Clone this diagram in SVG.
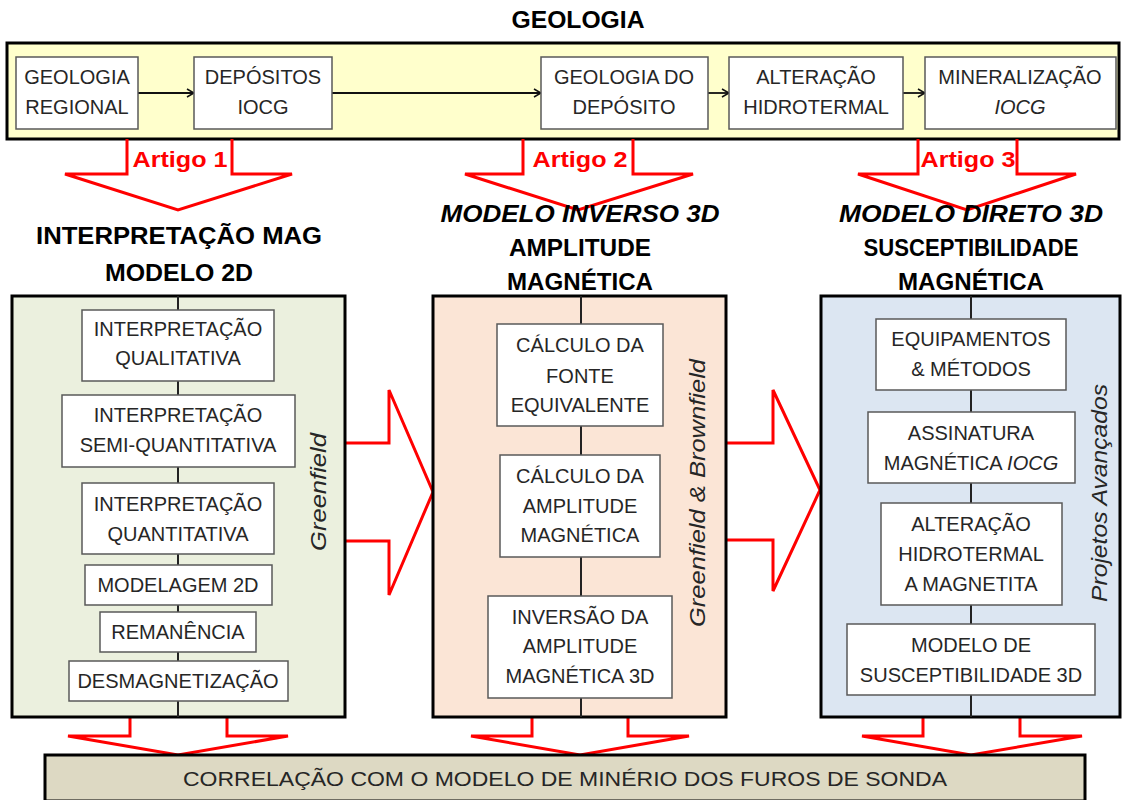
<svg xmlns="http://www.w3.org/2000/svg" width="1124" height="800" viewBox="0 0 1124 800">
<defs>
<marker id="ah" viewBox="0 0 10 10" refX="9" refY="5" markerWidth="10" markerHeight="10" markerUnits="userSpaceOnUse" orient="auto">
<polyline points="2,1 9,5 2,9" fill="none" stroke="#111" stroke-width="1.6"/>
</marker>
<style>
text{font-family:"Liberation Sans",Arial,sans-serif;}
.bx{fill:#fff;stroke:#595959;stroke-width:1.5;}
.t{font-size:20px;fill:#262626;text-anchor:middle;}
.h{font-size:24px;font-weight:bold;fill:#000;text-anchor:middle;}
.hi{font-style:italic;}
.panel{stroke:#000;stroke-width:3;}
.vl{stroke:#222;stroke-width:2;}
.red{fill:none;stroke:#ff0000;stroke-width:3;stroke-linejoin:miter;}
.art{font-size:22px;font-weight:bold;fill:#ff0000;text-anchor:middle;}
.rot{font-size:22px;font-style:italic;fill:#262626;text-anchor:middle;}
.flow{stroke:#111;stroke-width:1.8;fill:none;}
</style>
</defs>

<rect width="1124" height="800" fill="#fff"/>

<text class="h" x="578" y="28" textLength="133" lengthAdjust="spacingAndGlyphs">GEOLOGIA</text>

<g id="geologia">
<rect x="7" y="43" width="1112" height="96" fill="#ffffcc" stroke="#000" stroke-width="3"/>
</g>

<g id="connectors">
<line class="flow" x1="138" y1="93" x2="194" y2="93" marker-end="url(#ah)"/>
<line class="flow" x1="332" y1="93" x2="541" y2="93" marker-end="url(#ah)"/>
<line class="flow" x1="708" y1="93" x2="729" y2="93" marker-end="url(#ah)"/>
<line class="flow" x1="903" y1="93" x2="925" y2="93" marker-end="url(#ah)"/>
<polyline class="red" points="127,139 127,174 65,174 178,210 292,174 232,174 232,139"/>
<polyline class="red" points="523,139 523,174 465,174 578,210 693,174 633,174 633,139"/>
<polyline class="red" points="918,139 918,174 858,174 967,210 1076,174 1017,174 1017,139"/>
<polyline class="red" points="345,443 389,443 389,390 433,492 389,595 389,541 345,541"/>
<polyline class="red" points="726,443 773,443 773,390 820,490 773,591 773,540 726,540"/>
<polyline class="red" points="130,717 130,736 68,736 178,755 288,736 227,736 227,717"/>
<polyline class="red" points="532,717 532,736 471,736 580,755 689,736 628,736 628,717"/>
<polyline class="red" points="923,717 923,736 862,736 971,755 1082,736 1020,736 1020,717"/>
</g>

<g id="n-geo-regional">
<rect class="bx" x="16" y="57" width="122" height="72"/>
<text class="t" x="77" y="84">GEOLOGIA</text>
<text class="t" x="77" y="114">REGIONAL</text>
</g>
<g id="n-depositos">
<rect class="bx" x="194" y="57" width="138" height="72"/>
<text class="t" x="263" y="84">DEPÓSITOS</text>
<text class="t" x="263" y="114">IOCG</text>
</g>
<g id="n-geo-deposito">
<rect class="bx" x="541" y="57" width="167" height="72"/>
<text class="t" x="624" y="84">GEOLOGIA  DO</text>
<text class="t" x="624" y="114">DEPÓSITO</text>
</g>
<g id="n-alteracao">
<rect class="bx" x="729" y="57" width="174" height="72"/>
<text class="t" x="816" y="84">ALTERAÇÃO</text>
<text class="t" x="816" y="114">HIDROTERMAL</text>
</g>
<g id="n-mineralizacao">
<rect class="bx" x="925" y="57" width="191" height="72"/>
<text class="t" x="1020" y="84">MINERALIZAÇÃO</text>
<text class="t hi" x="1020" y="114">IOCG</text>
</g>

<g id="artigos">
<text class="art" x="180" y="167" textLength="95" lengthAdjust="spacingAndGlyphs">Artigo 1</text>
<text class="art" x="580" y="167" textLength="95" lengthAdjust="spacingAndGlyphs">Artigo 2</text>
<text class="art" x="968" y="167" textLength="95" lengthAdjust="spacingAndGlyphs">Artigo 3</text>
</g>

<g id="headings">
<text class="h" x="179" y="244" textLength="286" lengthAdjust="spacingAndGlyphs">INTERPRETAÇÃO MAG</text>
<text class="h" x="179" y="281" textLength="148" lengthAdjust="spacingAndGlyphs">MODELO 2D</text>
<text class="h hi" x="580" y="222" textLength="279" lengthAdjust="spacingAndGlyphs">MODELO INVERSO 3D</text>
<text class="h" x="580" y="256" textLength="142" lengthAdjust="spacingAndGlyphs">AMPLITUDE</text>
<text class="h" x="580" y="290" textLength="146" lengthAdjust="spacingAndGlyphs">MAGNÉTICA</text>
<text class="h hi" x="971" y="222" textLength="264" lengthAdjust="spacingAndGlyphs">MODELO DIRETO 3D</text>
<text class="h" x="971" y="256" textLength="215" lengthAdjust="spacingAndGlyphs">SUSCEPTIBILIDADE</text>
<text class="h" x="971" y="290" textLength="146" lengthAdjust="spacingAndGlyphs">MAGNÉTICA</text>
</g>

<g id="panel-2d">
<rect class="panel" x="12" y="296" width="333" height="421" fill="#ebf0de"/>
<line class="vl" x1="178" y1="296" x2="178" y2="717"/>
<text class="rot" transform="translate(326,492) rotate(-90)" textLength="118" lengthAdjust="spacingAndGlyphs">Greenfield</text>
</g>
<g id="n-qualitativa">
<rect class="bx" x="82" y="310" width="192" height="71"/>
<text class="t" x="178" y="336">INTERPRETAÇÃO</text>
<text class="t" x="178" y="365">QUALITATIVA</text>
</g>
<g id="n-semi">
<rect class="bx" x="62" y="395" width="233" height="72"/>
<text class="t" x="178" y="422">INTERPRETAÇÃO</text>
<text class="t" x="178" y="452">SEMI-QUANTITATIVA</text>
</g>
<g id="n-quantitativa">
<rect class="bx" x="82" y="483" width="192" height="71"/>
<text class="t" x="178" y="511">INTERPRETAÇÃO</text>
<text class="t" x="178" y="541">QUANTITATIVA</text>
</g>
<g id="n-modelagem">
<rect class="bx" x="85" y="565" width="187" height="40"/>
<text class="t" x="178" y="592">MODELAGEM 2D</text>
</g>
<g id="n-remanencia">
<rect class="bx" x="100" y="612" width="156" height="40"/>
<text class="t" x="178" y="639">REMANÊNCIA</text>
</g>
<g id="n-desmag">
<rect class="bx" x="69" y="661" width="219" height="40"/>
<text class="t" x="178" y="688">DESMAGNETIZAÇÃO</text>
</g>

<g id="panel-inverso">
<rect class="panel" x="433" y="296" width="293" height="421" fill="#fbe5d6"/>
<line class="vl" x1="581" y1="296" x2="581" y2="717"/>
<text class="rot" transform="translate(705,493) rotate(-90)" textLength="268" lengthAdjust="spacingAndGlyphs">Greenfield &amp; Brownfield</text>
</g>
<g id="n-fonte">
<rect class="bx" x="497" y="324" width="166" height="102"/>
<text class="t" x="580" y="352">CÁLCULO  DA</text>
<text class="t" x="580" y="383">FONTE</text>
<text class="t" x="580" y="412">EQUIVALENTE</text>
</g>
<g id="n-amplitude">
<rect class="bx" x="500" y="455" width="160" height="102"/>
<text class="t" x="580" y="483">CÁLCULO  DA</text>
<text class="t" x="580" y="513">AMPLITUDE</text>
<text class="t" x="580" y="542">MAGNÉTICA</text>
</g>
<g id="n-inversao">
<rect class="bx" x="488" y="596" width="184" height="102"/>
<text class="t" x="580" y="624">INVERSÃO  DA</text>
<text class="t" x="580" y="653">AMPLITUDE</text>
<text class="t" x="580" y="683">MAGNÉTICA  3D</text>
</g>

<g id="panel-direto">
<rect class="panel" x="821" y="296" width="299" height="421" fill="#dce6f2"/>
<line class="vl" x1="971" y1="296" x2="971" y2="717"/>
<text class="rot" transform="translate(1107,493) rotate(-90)" textLength="218" lengthAdjust="spacingAndGlyphs">Projetos Avançados</text>
</g>
<g id="n-equipamentos">
<rect class="bx" x="876" y="319" width="190" height="71"/>
<text class="t" x="971" y="346">EQUIPAMENTOS</text>
<text class="t" x="971" y="376">&amp; MÉTODOS</text>
</g>
<g id="n-assinatura">
<rect class="bx" x="868" y="412" width="207" height="71"/>
<text class="t" x="971" y="440">ASSINATURA</text>
<text class="t" x="971" y="470">MAGNÉTICA <tspan font-style="italic">IOCG</tspan></text>
</g>
<g id="n-magnetita">
<rect class="bx" x="881" y="503" width="181" height="102"/>
<text class="t" x="971" y="531">ALTERAÇÃO</text>
<text class="t" x="971" y="561">HIDROTERMAL</text>
<text class="t" x="971" y="591">A MAGNETITA</text>
</g>
<g id="n-suscept">
<rect class="bx" x="847" y="624" width="248" height="71"/>
<text class="t" x="971" y="652">MODELO  DE</text>
<text class="t" x="971" y="682">SUSCEPTIBILIDADE  3D</text>
</g>

<g id="n-correlacao">
<rect x="45" y="755" width="1040" height="46" fill="#ddd9c3" stroke="#000" stroke-width="3"/>
<text class="t" x="565" y="786" style="font-size:21px" textLength="764" lengthAdjust="spacingAndGlyphs">CORRELAÇÃO COM O MODELO DE MINÉRIO DOS FUROS DE SONDA</text>
</g>
</svg>
